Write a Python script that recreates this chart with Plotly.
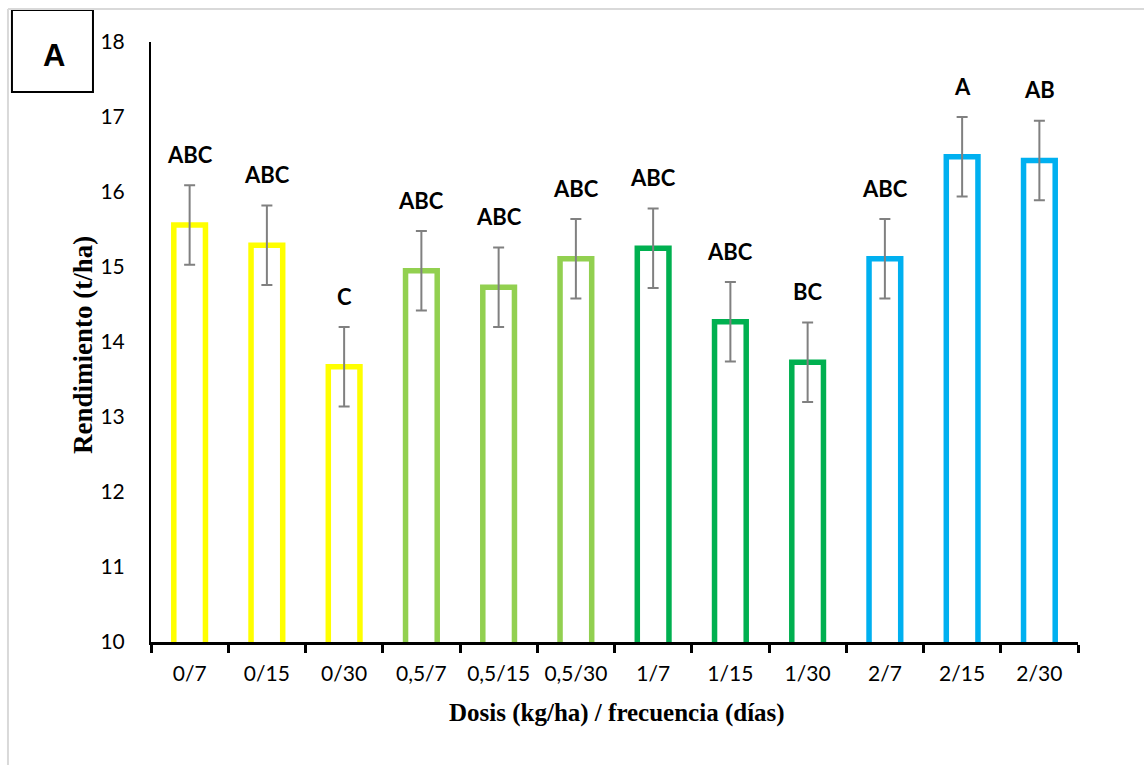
import plotly.graph_objects as go

# ---------------- data ----------------
categories = ["0/7", "0/15", "0/30", "0,5/7", "0,5/15", "0,5/30",
              "1/7", "1/15", "1/30", "2/7", "2/15", "2/30"]
rendimiento = [15.56, 15.29, 13.67, 14.95, 14.73, 15.11,
               15.25, 14.27, 13.73, 15.11, 16.47, 16.42]
error_std = [0.53, 0.53, 0.53, 0.53, 0.53, 0.53,
             0.53, 0.53, 0.53, 0.53, 0.53, 0.53]
letras = ["ABC", "ABC", "C", "ABC", "ABC", "ABC",
          "ABC", "ABC", "BC", "ABC", "A", "AB"]
y_ticks = [10, 11, 12, 13, 14, 15, 16, 17, 18]

# ---------------- styles ----------------
dose_colors = {"0": "#FFFF00", "0,5": "#92D050", "1": "#00B050", "2": "#00B0F0"}
bar_colors = [dose_colors[c.split("/")[0]] for c in categories]

fig = go.Figure()
fig.add_trace(go.Bar(
    x=categories,
    y=rendimiento,
    width=0.41,
    marker=dict(color="rgba(255,255,255,0)",
                line=dict(color=bar_colors, width=5.5)),
    error_y=dict(type="data", array=error_std, visible=True,
                 color="#808080", thickness=2, width=5.5),
    showlegend=False,
))

annotations = []
for c, v, e, t in zip(categories, rendimiento, error_std, letras):
    annotations.append(dict(
        x=c, y=v + e, xref="x", yref="y", text=t, showarrow=False,
        yanchor="middle", yshift=31,
        font=dict(family="Lato", size=22, color="black", weight="bold"),
    ))

# axis titles
annotations.append(dict(
    x=0.503, y=-0.118, xref="paper", yref="paper",
    text="<b>Dosis (kg/ha) / frecuencia (días)</b>", showarrow=False,
    font=dict(family="Liberation Serif", size=25, color="black"),
    xanchor="center", yanchor="middle",
))
annotations.append(dict(
    x=-0.0734, y=0.495, xref="paper", yref="paper",
    text="<b>Rendimiento (t/ha)</b>", showarrow=False, textangle=-90,
    font=dict(family="Liberation Serif", size=27, color="black"),
    xanchor="center", yanchor="middle",
))
# panel letter
annotations.append(dict(
    x=-0.1046, y=0.978, xref="paper", yref="paper",
    text="<b>A</b>", showarrow=False,
    font=dict(family="Liberation Sans", size=31, color="black"),
    xanchor="center", yanchor="middle",
))

shapes = [
    # panel letter box
    dict(type="rect", xref="paper", yref="paper",
         x0=-0.150, x1=-0.0626, y0=0.9167, y1=1.0533,
         line=dict(color="black", width=2), fillcolor="white"),
    # light frame (top and left)
    dict(type="line", xref="paper", yref="paper",
         x0=-0.1543, x1=1.08, y0=1.055, y1=1.055,
         line=dict(color="#D9D9D9", width=2)),
    dict(type="line", xref="paper", yref="paper",
         x0=-0.1543, x1=-0.1543, y0=1.055, y1=-0.22,
         line=dict(color="#D9D9D9", width=2)),
]

fig.update_layout(
    width=1144, height=765,
    margin=dict(l=151, r=66, t=42, b=123),
    paper_bgcolor="white", plot_bgcolor="white",
    annotations=annotations, shapes=shapes,
)
fig.update_xaxes(
    type="category", showline=True, linecolor="black", linewidth=3,
    ticks="outside", tickson="boundaries", ticklen=8, tickwidth=3,
    tickcolor="black", showgrid=False,
    tickfont=dict(family="Lato", size=21, color="black"),
    ticklabelstandoff=11,
)
fig.update_yaxes(
    range=[10, 18], tickvals=y_ticks, showline=True, linecolor="black",
    linewidth=2, ticks="", showgrid=False, zeroline=False,
    tickfont=dict(family="Lato", size=21, color="black"),
    ticklabelstandoff=20,
)

fig.write_html("out.html")
